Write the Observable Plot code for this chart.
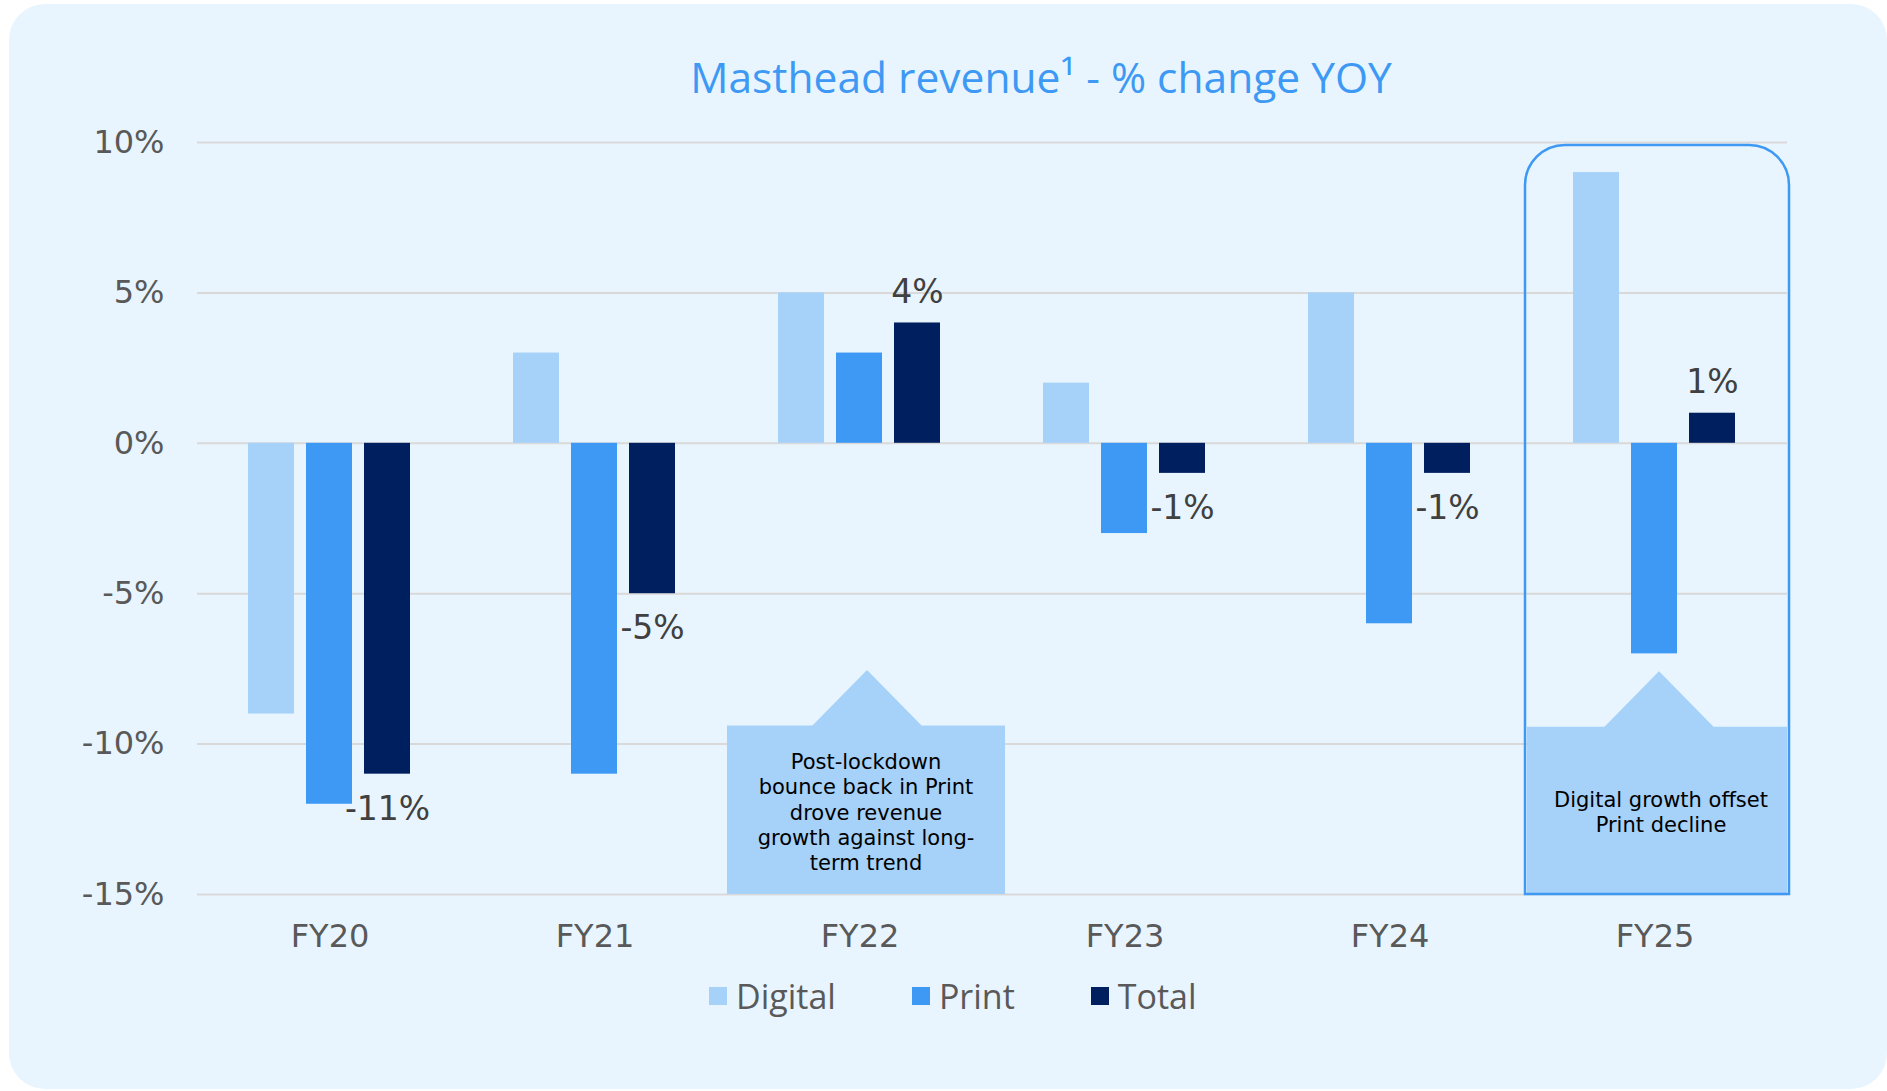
<!DOCTYPE html>
<html>
<head>
<meta charset="utf-8">
<script src="https://cdn.jsdelivr.net/npm/d3@7"></script>
<script src="https://cdn.jsdelivr.net/npm/@observablehq/plot@0.6"></script>
<style>
  html, body { margin: 0; padding: 0; background: #ffffff; }
  body { width: 1887px; height: 1091px; overflow: hidden; position: relative; }
  #card { position: absolute; left: 9px; top: 4px; width: 1878px; height: 1085px; border-radius: 36px; background: #E8F5FE; }
  #title { position: absolute; left: 541px; width: 1000px; top: 56px; text-align: center; font-family: "Open Sans", sans-serif; font-size: 42.5px; line-height: 42px; color: #3D99F4; white-space: nowrap; }
  #chart { position: absolute; left: 0; top: 110px; }
  #legend { position: absolute; left: 709px; top: 979px; display: flex; align-items: center; font-family: "Open Sans", sans-serif; font-size: 34px; line-height: 34px; color: #595959; }
  #legend .item { display: flex; align-items: center; margin-right: 76px; }
  #legend .sw { width: 18px; height: 18px; margin-right: 9px; }
</style>
</head>
<body>
<div id="card"></div>
<div id="title">Masthead revenue¹ - % change YOY</div>
<div id="chart"></div>
<div id="legend"></div>
<script>
// ---- data ----
const years = ["FY20", "FY21", "FY22", "FY23", "FY24", "FY25"];
const seriesNames = ["Digital", "Print", "Total"];
const digital = [-9, 3, 5, 2, 5, 9];
const print = [-12, -11, 3, -3, -6, -7];
const total = [-11, -5, 4, -1, -1, 1];
const seriesColors = ["#A6D1F9", "#3D99F4", "#001F5E"];
const yTicks = [10, 5, 0, -5, -10, -15];
const noteYears = ["FY22", "FY25"];
const noteTexts = [
  "Post-lockdown\nbounce back in Print\ndrove revenue\ngrowth against long-\nterm trend",
  "Digital growth offset\nPrint decline"
];
const highlightYears = ["FY25"];

// ---- table ----
const seriesValues = [digital, print, total];
const rows = years.flatMap((yr, i) => seriesNames.map((s, j) => ({year: yr, series: s, value: seriesValues[j][i]})));
const totals = rows.filter(d => d.series === "Total");

const arrowHead = {
  draw(ctx) { ctx.moveTo(-56, 1); ctx.lineTo(0, -56); ctx.lineTo(56, 1); ctx.closePath(); }
};

const font = "DejaVu Sans";
const plot = Plot.plot({
  width: 1887,
  height: 850,
  marginLeft: 195,
  marginRight: 98,
  marginTop: 32,
  marginBottom: 66,
  style: {background: "transparent", fontFamily: font, overflow: "visible"},
  fx: {domain: years, padding: 0, label: null},
  x: {domain: seriesNames, paddingInner: 0.2, paddingOuter: 0.85, axis: null},
  y: {domain: [-15, 10], label: null},
  color: {domain: seriesNames, range: seriesColors},
  marks: [
    Plot.gridY(yTicks, {stroke: "#D9D9D9", strokeOpacity: 1, strokeWidth: 2}),
    Plot.axisY(yTicks, {tickSize: 0, tickPadding: 33, tickFormat: d => d + "%", fontSize: 32, color: "#595959", fontFamily: font, label: null}),
    Plot.axisFx({anchor: "bottom", tickSize: 0, tickPadding: 30, fontSize: 32, color: "#595959", fontFamily: font, label: null}),
    // callout boxes
    Plot.rect([noteYears[0]], {fx: d => d, y1: () => -15, y2: () => -9.4, fill: "#A6D1F9", insetRight: -13}),
    Plot.dot([noteYears[0]], {fx: d => d, y: () => -9.4, symbol: arrowHead, fill: "#A6D1F9", stroke: "none", dx: 7}),
    Plot.rect([noteYears[1]], {fx: d => d, y1: () => -15, y2: () => -9.44, fill: "#A6D1F9", insetLeft: 5}),
    Plot.dot([noteYears[1]], {fx: d => d, y: () => -9.44, symbol: arrowHead, fill: "#A6D1F9", stroke: "none", dx: 4}),
    Plot.text(noteYears.map((y, i) => ({year: y, text: noteTexts[i]})), {fx: "year", y: () => -12.24, text: "text", fontSize: 21, lineHeight: 1.2, fill: "#000000", fontFamily: font, dx: 6}),
    // bars
    Plot.barY(rows, {fx: "year", x: "series", y: "value", fill: "series"}),
    // total labels
    Plot.text(totals.filter(d => d.value >= 0), {fx: "year", x: "series", y: "value", text: d => d.value + "%", dy: -31, fontSize: 33, fill: "#404040", fontFamily: font}),
    Plot.text(totals.filter(d => d.value < 0), {fx: "year", x: "series", y: "value", text: d => d.value + "%", dy: 35, fontSize: 33, fill: "#404040", fontFamily: font}),
    // FY25 highlight outline
    Plot.rect(highlightYears, {fx: d => d, y1: () => -15, y2: () => 9.9, fill: "none", stroke: "#3D99F4", strokeWidth: 2.5, insetLeft: 3, insetRight: -2, ry2: 40})
  ]
});
document.getElementById("chart").appendChild(plot);

// legend
const legend = document.getElementById("legend");
seriesNames.forEach((s, i) => {
  const item = document.createElement("div");
  item.className = "item";
  const sw = document.createElement("div");
  sw.className = "sw";
  sw.style.background = seriesColors[i];
  const t = document.createElement("span");
  t.textContent = s;
  item.appendChild(sw);
  item.appendChild(t);
  legend.appendChild(item);
});
</script>
</body>
</html>
